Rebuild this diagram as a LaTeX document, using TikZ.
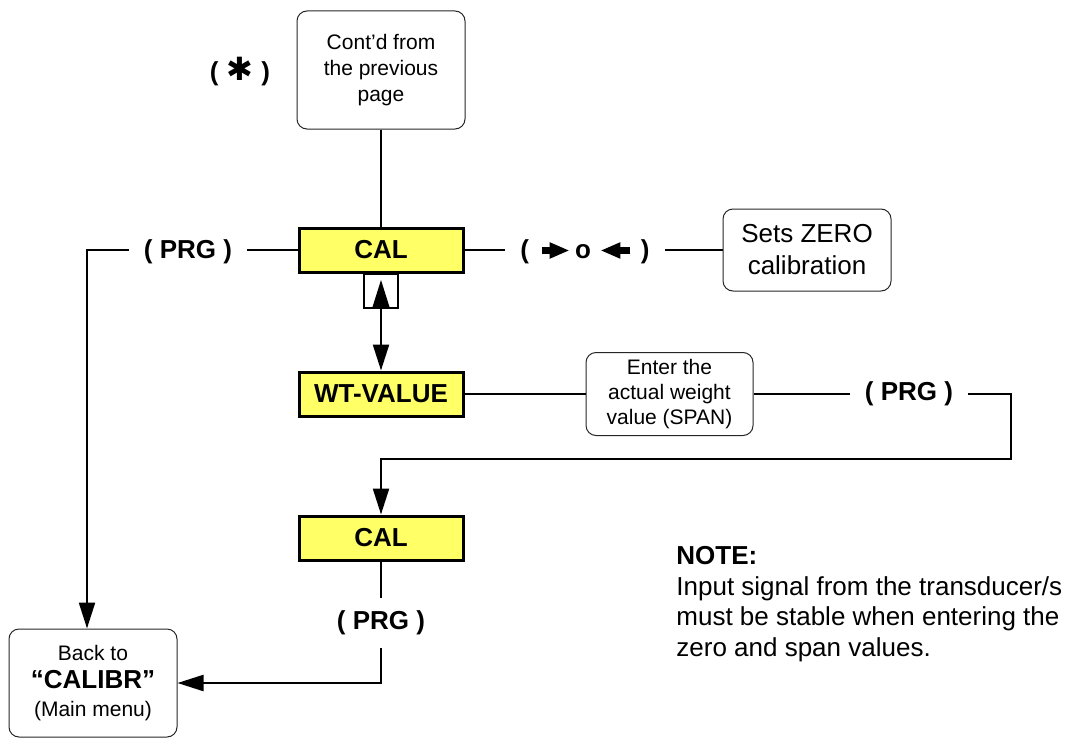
\documentclass[tikz,border=0pt]{standalone}
\usepackage{fontspec}
\setmainfont{Liberation Sans}
\newfontfamily\symfont{DejaVu Sans}
\usetikzlibrary{arrows.meta, positioning}
\definecolor{keyyellow}{RGB}{255,255,102}
\newcommand{\keyarrow}[2]{\tikz[baseline=-0.6ex, x=1pt, y=1pt]\draw[line width=3.5pt, -{Triangle[length=10pt,width=7.5pt]}] (#1,0) -- (#2,0);}

\begin{document}
\begin{tikzpicture}[x=0.5pt, y=-0.5pt,
    menubox/.style={draw, fill=keyyellow, line width=1.5pt, minimum width=82pt, minimum height=22pt, inner sep=0pt, font=\fontsize{13}{15}\selectfont\bfseries},
    notebox/.style={draw=black!85, line width=0.5pt, rounded corners=5pt, align=center, inner sep=0pt},
    keylabel/.style={font=\fontsize{13}{15}\selectfont\bfseries, inner xsep=7.5pt, inner ysep=6pt},
    link/.style={line width=1.1pt},
    arrowlink/.style={link, -{Triangle[length=13pt, width=8pt]}}]
  \useasboundingbox (0,0) rectangle (1075,738);
  \foreach \name/\ypos/\txt in {calA/250/CAL, wtval/394/WT-VALUE, calB/538/CAL}{
    \node[menubox] (\name) at (381,\ypos) {\txt};
  };
  \node[draw, line width=1.2pt, minimum size=17pt, inner sep=0pt] (upkey) at (381,291) {};
  \fill (upkey.center) ++(0,-11) -- ++(-8.5,27) -- ++(17,0) -- cycle;
  \node[notebox, minimum width=84pt, minimum height=59pt, font=\fontsize{10.5}{13}\selectfont] (prev) at (381,70) {Cont’d from\\the previous\\page};
  \node[keylabel] (star) at (240,72) {(\hspace{4pt}{\symfont\fontsize{16}{16}\selectfont ✱}\hspace{4pt})};
  \node[notebox, minimum width=84pt, minimum height=41pt, font=\fontsize{13}{16}\selectfont] (zero) at (807,250) {Sets ZERO\\calibration};
  \node[notebox, minimum width=83.5pt, minimum height=41.5pt, font=\fontsize{10.5}{12.5}\selectfont] (span) at (669.5,394) {Enter the\\actual weight\\value (SPAN)};
  \node[notebox, minimum width=84pt, minimum height=54pt, font=\fontsize{10.5}{14}\selectfont] (back) at (93,683) {Back to\\{\fontsize{13}{14}\selectfont\bfseries “CALIBR”}\\(Main menu)};
  \foreach \name/\xpos/\ypos in {prgL/188/252, prgR/909/394, prgB/381/623}{
    \node[keylabel] (\name) at (\xpos,\ypos) {( PRG )};
  };
  \node[keylabel] (zkey) at (585,252) {(\hspace{4.5pt}\keyarrow{0}{14}\hspace{1pt}o\hspace{3pt}\keyarrow{15}{0}\hspace{3.5pt})};
  \node[anchor=north west, align=left, inner sep=0pt, font=\fontsize{13}{15.3}\selectfont] (note) at (676,546) {\textbf{NOTE:}\\Input signal from the transducer/s\\must be stable when entering the\\zero and span values.};
  \coordinate (lcorner) at (87,250);
  \coordinate (rcorner) at (1011,459);
  \draw[link] (prev) -- (calA);
  \draw[link] (calA.east) -- (zkey.west |- calA.east) (zkey.east |- zero.west) -- (zero.west);
  \draw[link] (calA.west) -- (prgL.east |- calA.west);
  \draw[arrowlink] (prgL.west |- lcorner) -- (lcorner) -- (lcorner |- back.north);
  \draw[arrowlink] (upkey) -- (wtval);
  \draw[link] (wtval) -- (span) (span) -- (prgR.west |- span.east);
  \draw[arrowlink] (prgR.east |- span.east) -- (prgR.east -| rcorner) -- (rcorner) -- (rcorner -| calB.north) -- (calB.north);
  \draw[link] (calB) -- (prgB);
  \draw[arrowlink] (prgB) -- (prgB |- back.east) -- (back.east);
\end{tikzpicture}
\end{document}
